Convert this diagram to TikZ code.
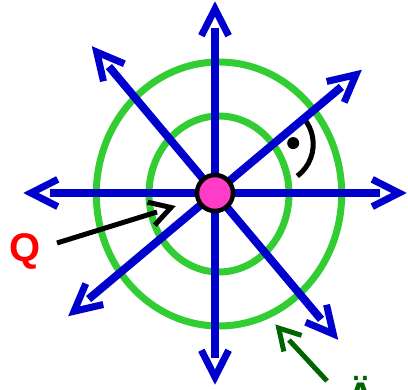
\documentclass[tikz,border=0pt]{standalone}
\usepackage{fontspec}
\setsansfont{Liberation Sans}
\usetikzlibrary{calc}
\definecolor{cRay}{RGB}{0, 0, 204}
\definecolor{cRing}{RGB}{50, 205, 50}
\definecolor{cCharge}{RGB}{255, 60, 200}
\definecolor{cQ}{RGB}{255, 0, 0}
\definecolor{cPot}{RGB}{0, 100, 0}

\begin{document}
\begin{tikzpicture}[
    x=1pt, y=1pt,
    font=\sffamily\bfseries\fontsize{40}{40}\selectfont,
    ring/.style={draw=cRing, line width=7pt},
    ray/.style={draw=cRay, line width=8pt},
    rayhead/.style={draw=cRay, line width=7pt},
    pointer/.style={draw=#1, line width=5pt},
    label/.style={text=#1, anchor=base, inner sep=0pt}
]

\useasboundingbox (0,0) rectangle (408,390);

% Charge and equipotential lines
\coordinate (C) at (215,197);
\coordinate (E) at (219,196);
\draw[ring] (E) ellipse[x radius=122.7pt, y radius=132pt];
\draw[ring] (E) ellipse[x radius=70pt, y radius=78pt];

% Right angle between field line and inner ring
\coordinate (P) at ($(C)+(40:76)$);
\draw[line width=5pt] ($(P)+(40:40)$) arc[start angle=40, end angle=-53, radius=40pt];
\fill ($(P)+(3:20)$) circle[radius=6pt];

% Pointer to Q
\coordinate (qtail) at (57,147);
\coordinate (qend) at (157,178);
\coordinate (qv) at (171,182.5);
\draw[pointer=black] (qtail) -- (qend);
\draw[pointer=black] ($(qv)+(167.3:24)$) -- (qv) -- ($(qv)+(227.3:24)$);

% Pointer to the ring
\coordinate (atail) at (327,9);
\coordinate (aend) at (289,50);
\coordinate (av) at (278.7,61.9);
\draw[pointer=cPot] (atail) -- (aend);
\draw[pointer=cPot] ($(av)+(282.4:24)$) -- (av) -- ($(av)+(342.4:24)$);

% Field lines
\foreach \a [count=\i] in {0,40,90,130,180,220,270,310} {
    \coordinate (s\i) at ($(C)+(\a:165)$);
    \coordinate (t\i) at ($(C)+(\a:184)$);
    \draw[ray] (C) -- (s\i);
    \draw[rayhead] ($(t\i)+(\a+153:30)$) -- (t\i) -- ($(t\i)+(\a-153:30)$);
}

\node[circle, draw=black, fill=cCharge, line width=4.5pt, minimum size=36pt, inner sep=0pt] (charge) at (C) {};

\node[label=cQ] (q) at (25.5,128) {Q};
\node[label=cPot] (ae) at (361,-20.6) {Ä};

\end{tikzpicture}
\end{document}
